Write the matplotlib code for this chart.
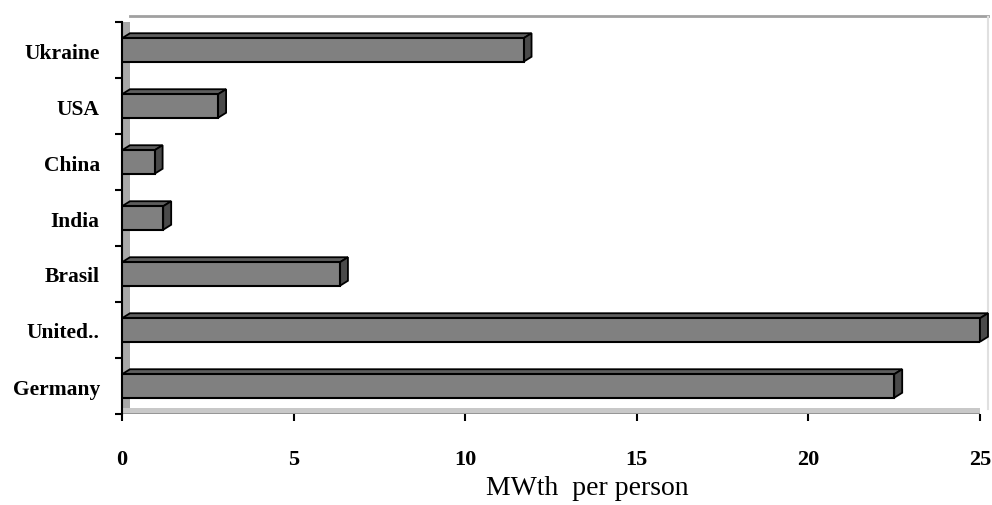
import matplotlib
matplotlib.use('Agg')
import matplotlib.pyplot as plt
from matplotlib.patches import Polygon, Rectangle

countries = ['Germany', 'United..', 'Brasil', 'India', 'China', 'USA', 'Ukraine']
mwth = [22.5, 25.0, 6.35, 1.2, 0.95, 2.8, 11.7]
xticks = [0, 5, 10, 15, 20, 25]

W, H = 992, 506
fig = plt.figure(figsize=(W / 100, H / 100), dpi=100)
ax = fig.add_axes([122 / W, (H - 415) / H, (980 - 122) / W, (415 - 23) / H])
ax.set_xlim(0, 25)
ax.set_ylim(-0.5, len(countries) - 0.5)

# 3d offsets in data units (about 8px right, 5px up)
dx = 8 / (858 / 25)
dy = 5 / (392 / 7)
h = 0.42

# back walls
ax.add_patch(Rectangle((0, -0.5), dx, len(countries), facecolor='#a8a8a8',
                       edgecolor='none', zorder=0))
ax.add_patch(Rectangle((0, -0.5), 25, dy * 1.2, facecolor='#c8c8c8',
                       edgecolor='none', zorder=0))
ax.plot([dx, 25 + dx], [len(countries) - 0.5 + dy * 1.3, len(countries) - 0.5 + dy * 1.3],
        color='#a0a0a0', lw=2, clip_on=False, zorder=0)
ax.plot([25 + dx, 25 + dx], [-0.5 + dy, len(countries) - 0.5 + dy],
        color='#e0e0e0', lw=1.5, clip_on=False, zorder=0)
ax.plot([0, 25], [-0.5, -0.5], color='#909090', lw=2, zorder=1)

ypos = list(range(len(countries)))
ax.barh(ypos, mwth, height=h, color='#808080', edgecolor='black',
        linewidth=1.5, zorder=3)
for y, v in zip(ypos, mwth):
    top = [(0, y + h / 2), (v, y + h / 2), (v + dx, y + h / 2 + dy), (dx, y + h / 2 + dy)]
    side = [(v, y - h / 2), (v + dx, y - h / 2 + dy), (v + dx, y + h / 2 + dy), (v, y + h / 2)]
    ax.add_patch(Polygon(top, closed=True, facecolor='#5e5e5e', edgecolor='black',
                         lw=1.3, zorder=2, clip_on=False))
    ax.add_patch(Polygon(side, closed=True, facecolor='#4a4a4a', edgecolor='black',
                         lw=1.3, zorder=2, clip_on=False))

for s in ['top', 'right', 'bottom']:
    ax.spines[s].set_visible(False)
ax.spines['left'].set_color('black')
ax.spines['left'].set_linewidth(1.5)

ax.set_yticks([i - 0.5 for i in range(len(countries) + 1)])
ax.set_yticklabels([])
ax.set_yticks(ypos, minor=True)
ax.set_yticklabels(countries, minor=True, fontfamily='Liberation Serif',
                   fontweight='bold', fontsize=15.5)
ax.tick_params(axis='y', which='minor', length=0, pad=16)
ax.tick_params(axis='y', which='major', length=5, width=1.5)

ax.set_xticks(xticks)
ax.set_xticklabels([str(t) for t in xticks], fontfamily='Liberation Serif',
                   fontweight='bold', fontsize=16)
ax.tick_params(axis='x', length=5, width=1.5, pad=20)
ax.set_xlabel('MWth  per person', fontfamily='Liberation Serif', fontsize=20)
ax.xaxis.set_label_coords(0.542, -0.155)

fig.savefig('out.png', dpi=100)
